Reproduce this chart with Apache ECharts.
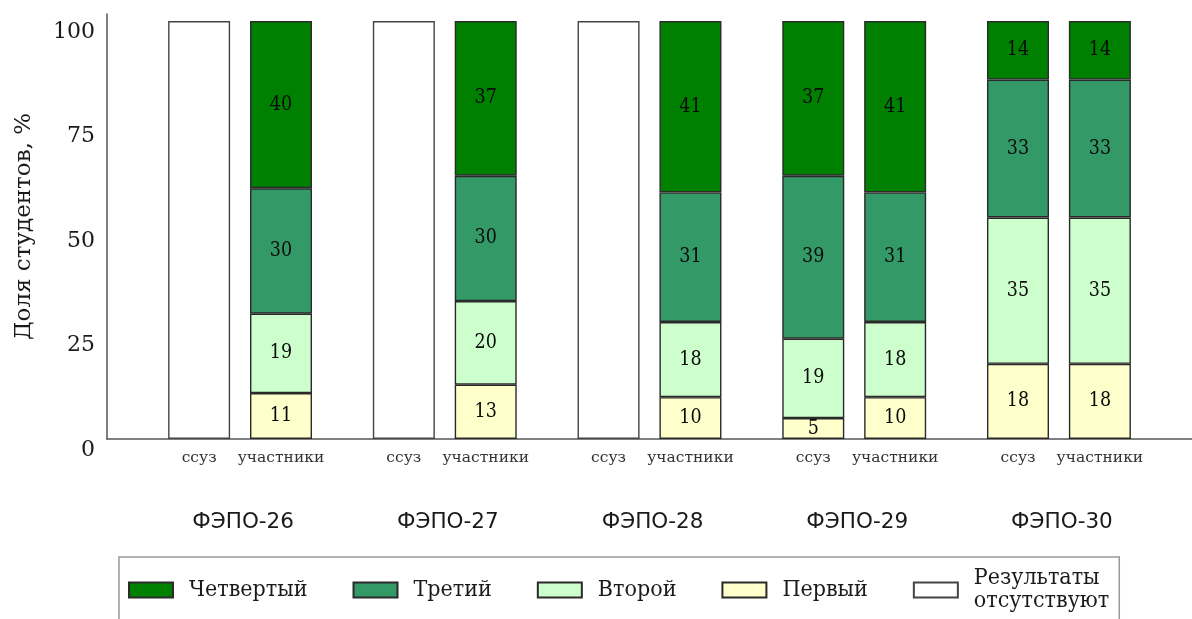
<!DOCTYPE html>
<html>
<head>
<meta charset="utf-8">
<script src="https://cdn.jsdelivr.net/npm/echarts@6/dist/echarts.min.js"></script>
<style>
  html, body { margin: 0; padding: 0; background: #fff; }
  #chart { width: 1192px; height: 619px; }
</style>
</head>
<body>
<div id="chart"></div>
<script>
// Test rounds and the two cohorts shown in each
const groups = ['ФЭПО-26', 'ФЭПО-27', 'ФЭПО-28', 'ФЭПО-29', 'ФЭПО-30'];
const cohorts = ['ссуз', 'участники'];

// Share of students per level, one value per bar in order:
// 26 ссуз, 26 участники, 27 ссуз, 27 участники, ... (null = no data)
const levelFirst  = [null, 11, null, 13, null, 10,  5, 10, 18, 18];
const levelSecond = [null, 19, null, 20, null, 18, 19, 18, 35, 35];
const levelThird  = [null, 30, null, 30, null, 31, 39, 31, 33, 33];
const levelFourth = [null, 40, null, 37, null, 41, 37, 41, 14, 14];
const noResults   = [100, null, 100, null, 100, null, null, null, null, null];

const yTicks = [0, 25, 50, 75, 100];

// Layout of the category axis: narrow slots, bars sit on some of them
const SLOT_LEAD = 4, SLOT_GROUP = 10, SLOT_COHORT = 4, SLOT_TOTAL = 53;
const barSlot = j => SLOT_LEAD + SLOT_GROUP * Math.floor(j / 2) + SLOT_COHORT * (j % 2);

const cohortLabels = new Array(SLOT_TOTAL).fill('');
const groupLabels = new Array(SLOT_TOTAL).fill('');
for (let j = 0; j < groups.length * cohorts.length; j++) {
  cohortLabels[barSlot(j)] = cohorts[j % 2];
}
groups.forEach((g, i) => {
  groupLabels[SLOT_LEAD + SLOT_GROUP * i + SLOT_COHORT / 2] = g;
});

function toSlots(values) {
  const out = new Array(SLOT_TOTAL).fill('-');
  values.forEach((v, j) => { if (v !== null) out[barSlot(j)] = v; });
  return out;
}

const serifCond = '"DejaVu Serif Condensed", "Liberation Serif", serif';
const serif = '"DejaVu Serif", serif';

function levelSeries(name, values, color, labelled) {
  return {
    name: name,
    type: 'bar',
    stack: 'total',
    barWidth: 62,
    data: toSlots(values),
    itemStyle: { color: color, borderColor: '#2a2a2a', borderWidth: 1.4 },
    label: {
      show: labelled,
      position: 'inside',
      fontFamily: serifCond,
      fontSize: 19.5,
      color: '#0a0a0a'
    },
    emphasis: { disabled: true }
  };
}

const chart = echarts.init(document.getElementById('chart'), null, { renderer: 'canvas' });

chart.setOption({
  animation: false,
  backgroundColor: '#fff',
  grid: { left: 107, right: -7, top: 14, bottom: 180, containLabel: false },
  legend: {
    left: 119,
    top: 557,
    padding: [10, 10, 22, 9],
    borderColor: '#999',
    borderWidth: 1.5,
    itemWidth: 44,
    itemHeight: 15,
    itemGap: 45,
    icon: 'rect',
    data: ['Четвертый', 'Третий', 'Второй', 'Первый', 'Результаты отсутствуют'],
    formatter: name => name.replace(' ', '\n'),
    textStyle: {
      fontFamily: serifCond,
      fontSize: 23,
      lineHeight: 23,
      color: '#1a1a1a',
      padding: [0, 0, 0, 11]
    }
  },
  xAxis: [
    {
      type: 'category',
      position: 'bottom',
      data: cohortLabels,
      axisLine: { lineStyle: { color: '#555', width: 1.5 } },
      axisTick: { show: false },
      axisLabel: {
        interval: 0,
        margin: 11,
        fontFamily: serif,
        fontSize: 15.5,
        color: '#333'
      }
    },
    {
      type: 'category',
      position: 'bottom',
      data: groupLabels,
      axisLine: { show: false },
      axisTick: { show: false },
      axisLabel: {
        interval: 0,
        margin: 72,
        fontFamily: '"DejaVu Sans", sans-serif',
        fontSize: 21.5,
        color: '#1a1a1a',
        padding: [0, 0, 0, 6]
      }
    }
  ],
  yAxis: {
    type: 'value',
    min: yTicks[0],
    max: 101.7,
    interval: yTicks[1] - yTicks[0],
    name: 'Доля студентов, %',
    nameLocation: 'middle',
    nameGap: 71,
    nameTextStyle: { fontFamily: serif, fontSize: 23, color: '#1a1a1a' },
    axisLine: { show: true, lineStyle: { color: '#555', width: 1.5 } },
    axisTick: { show: false },
    splitLine: { show: false },
    axisLabel: {
      showMaxLabel: false,
      margin: 12,
      fontFamily: serif,
      fontSize: 22,
      color: '#1a1a1a',
      verticalAlign: 'top',
      formatter: v => (yTicks.indexOf(v) >= 0 ? String(v) : '')
    }
  },
  series: [
    levelSeries('Первый', levelFirst, '#ffffcc', true),
    levelSeries('Второй', levelSecond, '#ccffcc', true),
    levelSeries('Третий', levelThird, '#339966', true),
    levelSeries('Четвертый', levelFourth, '#008000', true),
    Object.assign(levelSeries('Результаты отсутствуют', noResults, '#ffffff', false), {
      itemStyle: { color: '#ffffff', borderColor: '#444', borderWidth: 1.4 }
    })
  ]
});
</script>
</body>
</html>
